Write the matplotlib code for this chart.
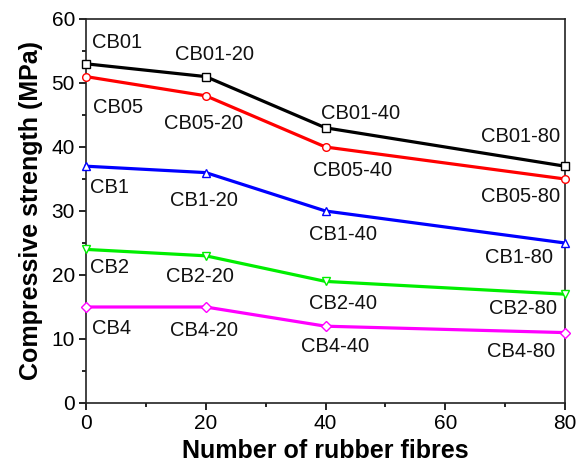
import matplotlib
matplotlib.use("Agg")
import matplotlib.pyplot as plt
from matplotlib.ticker import MultipleLocator

plt.rcParams['font.family'] = ['Liberation Sans', 'DejaVu Sans']

fibres = [0, 20, 40, 80]
cb01 = [53, 51, 43, 37]
cb05 = [51, 48, 40, 35]
cb1 = [37, 36, 30, 25]
cb2 = [24, 23, 19, 17]
cb4 = [15, 15, 12, 11]

series = [
    (cb01, "black", "s"),
    (cb05, "red", "o"),
    (cb1, "blue", "^"),
    (cb2, "#00ee00", "v"),
    (cb4, "magenta", "D"),
]

# label text and (x, y) in data units
labels = [
    ("CB01", 5.2, 56.4), ("CB01-20", 21.5, 54.4), ("CB01-40", 45.9, 45.3), ("CB01-80", 72.6, 41.7),
    ("CB05", 5.3, 46.1), ("CB05-20", 19.7, 43.6), ("CB05-40", 44.6, 36.3), ("CB05-80", 72.6, 32.3),
    ("CB1", 4.0, 33.6), ("CB1-20", 19.7, 31.7), ("CB1-40", 42.9, 26.4), ("CB1-80", 72.3, 22.8),
    ("CB2", 4.0, 21.1), ("CB2-20", 19.0, 19.7), ("CB2-40", 42.9, 15.6), ("CB2-80", 73.0, 14.7),
    ("CB4", 4.3, 11.7), ("CB4-20", 19.7, 11.25), ("CB4-40", 41.6, 8.75), ("CB4-80", 72.6, 8.0),
]

fig = plt.figure(figsize=(5.76, 4.63), dpi=100)
ax = fig.add_axes([86 / 576, 60 / 463, 479 / 576, 384 / 463])

for vals, col, mk in series:
    ms = 5 if mk == "D" else 5.5
    ax.plot(fibres, vals, color=col, lw=2.3, marker=mk, ms=ms,
            mfc="white", mec=col, mew=1.0, clip_on=False, zorder=3)

for txt, x, y in labels:
    ax.text(x, y, txt, fontsize=14.5, ha="center", va="center", color="#111111")

ax.set_xlim(0, 80)
ax.set_ylim(0, 60)
ax.xaxis.set_major_locator(MultipleLocator(20))
ax.xaxis.set_minor_locator(MultipleLocator(10))
ax.yaxis.set_major_locator(MultipleLocator(10))
ax.yaxis.set_minor_locator(MultipleLocator(5))
ax.tick_params(which="major", direction="out", length=5, width=1.2, labelsize=15, pad=3)
ax.tick_params(which="minor", direction="out", length=3, width=1.2)
for s in ax.spines.values():
    s.set_linewidth(1.2)
    s.set_color("#222222")

ax.set_xlabel("Number of rubber fibres", fontsize=18, fontweight="bold", labelpad=4)
ax.set_ylabel("Compressive strength (MPa)", fontsize=18, fontweight="bold", labelpad=6)

fig.savefig("out.png", dpi=100)
